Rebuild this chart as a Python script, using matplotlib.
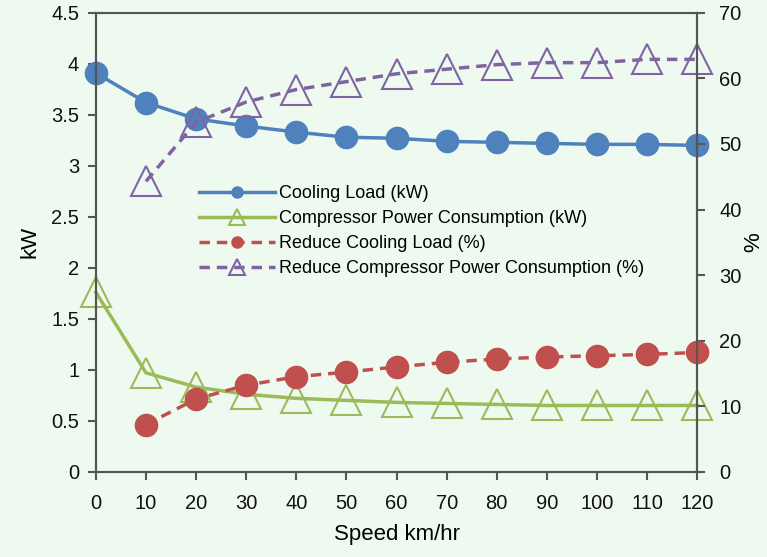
import matplotlib.pyplot as plt

plt.rcParams['font.family'] = ['Liberation Sans', 'DejaVu Sans']

speed = [0, 10, 20, 30, 40, 50, 60, 70, 80, 90, 100, 110, 120]
cooling_load = [3.91, 3.62, 3.46, 3.39, 3.33, 3.28, 3.27, 3.24, 3.23, 3.22, 3.21, 3.21, 3.20]
compressor = [1.76, 0.97, 0.83, 0.76, 0.72, 0.70, 0.68, 0.67, 0.66, 0.65, 0.65, 0.65, 0.65]
speed_pct = [10, 20, 30, 40, 50, 60, 70, 80, 90, 100, 110, 120]
reduce_cooling = [7.2, 11.1, 13.2, 14.5, 15.2, 16.0, 16.7, 17.2, 17.5, 17.7, 17.9, 18.2]
reduce_compressor = [44.3, 53.3, 56.4, 58.3, 59.5, 60.7, 61.4, 62.1, 62.4, 62.4, 62.9, 62.9]

bg = "#eefaf0"
spine = "#555555"

fig = plt.figure(figsize=(7.67, 5.57), dpi=100, facecolor=bg)
ax = fig.add_axes([0.125, 0.153, 0.784, 0.824], facecolor=bg)
ax2 = ax.twinx()

l1, = ax.plot(speed, cooling_load, color="#4F81BD", lw=2.5, marker='o', ms=16,
              label="Cooling Load (kW)", clip_on=False)
l2, = ax.plot(speed, compressor, color="#9BBB59", lw=2.5, marker='^', ms=22,
              mfc='none', mew=1.5, label="Compressor Power Consumption (kW)", clip_on=False)
l3, = ax2.plot(speed_pct, reduce_cooling, color="#C0504D", lw=2.5, ls=(0, (3, 2)),
               marker='o', ms=16, label="Reduce Cooling Load (%)", clip_on=False)
l4, = ax2.plot(speed_pct, reduce_compressor, color="#8064A2", lw=2.5, ls=(0, (3, 2)),
               marker='^', ms=22, mfc='none', mew=1.5,
               label="Reduce Compressor Power Consumption (%)", clip_on=False)

ax.set_xlim(0, 120)
ax.set_ylim(0, 4.5)
ax2.set_ylim(0, 70)
ax.set_xticks(speed)
ax.set_yticks([0, 0.5, 1, 1.5, 2, 2.5, 3, 3.5, 4, 4.5])
ax.set_yticklabels(['0', '0.5', '1', '1.5', '2', '2.5', '3', '3.5', '4', '4.5'])
ax2.set_yticks(range(0, 71, 10))

for a in (ax, ax2):
    for s in a.spines.values():
        s.set_color(spine)
        s.set_linewidth(1.5)
    a.tick_params(colors=spine, labelcolor='#111111', labelsize=14.5, length=6, width=1.5, pad=6)
ax.tick_params(axis='x', pad=10)
ax2.tick_params(axis='y', pad=10)

ax.set_xlabel("Speed km/hr", size=16, labelpad=8)
ax.set_ylabel("kW", size=16, labelpad=8)
ax2.set_ylabel("%", size=16, labelpad=1)

ax2.legend([l1, l2, l3, l4], [l.get_label() for l in (l1, l2, l3, l4)],
           loc='upper left', bbox_to_anchor=(0.145, 0.66), frameon=False,
           fontsize=13, handlelength=4.2, markerscale=0.5, labelspacing=0.45,
           handletextpad=0.2)

fig.savefig("out.png", dpi=100, facecolor=bg)
